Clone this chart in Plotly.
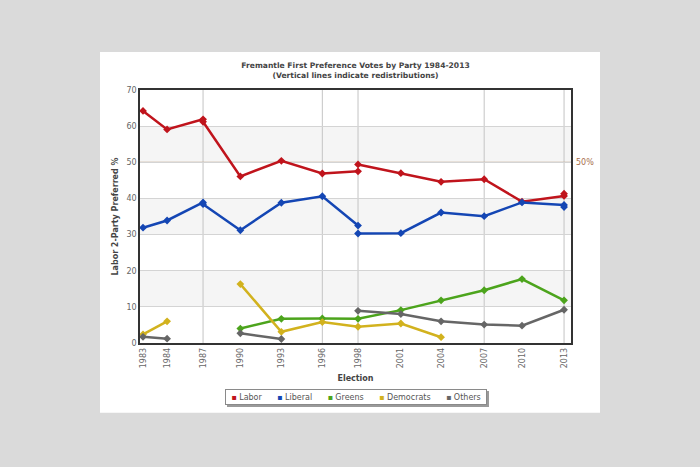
import plotly.graph_objects as go

# ---- data ----
elections = ["1983-03-05", "1984-12-01", "1987-07-11", "1990-03-24", "1993-03-13",
             "1996-03-02", "1998-10-03", "2001-11-10", "2004-10-09", "2007-11-24",
             "2010-08-21", "2013-09-07"]
years = ["1983", "1984", "1987", "1990", "1993", "1996", "1998", "2001", "2004",
         "2007", "2010", "2013"]
redistributions = ["1987-07-11", "1996-03-02", "1998-10-03", "2007-11-24", "2013-09-07"]

# each segment: (index of first election, values)
labor = [(0, [64.2, 59.1, 61.9]), (2, [61.2, 46.1, 50.4, 46.9, 47.5]),
         (6, [49.4, 47.0, 44.6, 45.3, 39.1, 40.7]), (11, [41.3])]
liberal = [(0, [31.9, 33.9, 38.9]), (2, [38.4, 31.2, 38.8, 40.6, 32.5]),
           (6, [30.3, 30.4, 36.1, 35.1, 38.9, 38.2]), (11, [37.6])]
greens = [(3, [4.0, 6.7, 6.8, 6.7, 9.1, 11.8, 14.6, 17.7, 11.8])]
democrats = [(0, [2.4, 6.0]), (3, [16.3, 3.1, 5.8, 4.5, 5.4, 1.6])]
others = [(0, [1.7, 1.2]), (3, [2.7, 1.1]), (6, [8.9, 8.0, 6.0, 5.1, 4.8, 9.2])]

parties = ["Labor", "Liberal", "Greens", "Democrats", "Others"]
series = [labor, liberal, greens, democrats, others]
colors = ["#c0141c", "#1446b4", "#4ca41c", "#d2b21e", "#666666"]

majority = 50

FONT = "DejaVu Sans"

fig = go.Figure()

for name, segs, col in zip(parties, series, colors):
    xs, ys = [], []
    for start, vals in segs:
        if xs:
            xs.append(None)
            ys.append(None)
        xs.extend(elections[start:start + len(vals)])
        ys.extend(vals)
    fig.add_trace(go.Scatter(
        x=xs, y=ys, mode="lines+markers", name=name, showlegend=False,
        connectgaps=False,
        line=dict(color=col, width=2.5),
        marker=dict(symbol="diamond", size=6, color=col),
    ))

shapes = []
# white panel behind the chart
shapes.append(dict(type="rect", xref="paper", yref="paper",
                   x0=-0.0928, x1=1.0673, y0=-0.276, y1=1.150,
                   fillcolor="white", line=dict(width=0), layer="below"))
# legend shadow
shapes.append(dict(type="rect", xref="paper", yref="paper",
                   x0=0.2019, x1=0.8097, y0=-0.253, y1=-0.1897,
                   fillcolor="#9a9a9a", line=dict(width=0), layer="below"))
# alternating bands
for lo in (10, 30, 50):
    shapes.append(dict(type="rect", xref="paper", yref="y", x0=0, x1=1,
                       y0=lo, y1=lo + 10, fillcolor="#f5f5f5",
                       line=dict(width=0), layer="below"))
# redistribution lines
for d in redistributions:
    shapes.append(dict(type="line", xref="x", yref="paper", x0=d, x1=d, y0=0, y1=1,
                       line=dict(color="#c4c4c4", width=1), layer="below"))
# 50% line
shapes.append(dict(type="line", xref="paper", yref="y", x0=0, x1=1,
                   y0=majority, y1=majority,
                   line=dict(color="#c0a488", width=1.2), layer="below"))

# legend (drawn as a boxed text row, like the original's compact legend)
gap = "&nbsp;" * 6
legend_text = gap.join(
    f'<span style="color:{c}">▪</span>&nbsp;{p}' for p, c in zip(parties, colors)
)

fig.update_layout(
    width=700, height=467,
    paper_bgcolor="#dadada",
    plot_bgcolor="rgba(0,0,0,0)",
    margin=dict(l=140, r=129, t=90, b=124),
    font=dict(family=FONT, size=8, color="#555555"),
    showlegend=False,
    title=dict(
        text="Fremantle First Preference Votes by Party 1984-2013<br>(Vertical lines indicate redistributions)",
        x=0.5, xref="paper", xanchor="center",
        y=1 - 68 / 467, yanchor="top",
        font=dict(family=FONT, size=7.6, color="#444444", weight="bold"),
    ),
    shapes=shapes,
    annotations=[
        dict(text="50%", xref="paper", yref="y", x=1.0, y=majority,
             xanchor="left", yanchor="middle", xshift=3, showarrow=False,
             font=dict(family=FONT, size=8, color="#a86e4c")),
        dict(text=legend_text, xref="paper", yref="paper", x=0.5012, y=-0.2134,
             xanchor="center", yanchor="middle", showarrow=False,
             width=256, height=10, align="center", valign="middle",
             bgcolor="white", bordercolor="#8a8a8a", borderwidth=1, borderpad=2,
             font=dict(family=FONT, size=8, color="#555555")),
    ],
)

fig.update_xaxes(
    type="date",
    range=["1982-12-15", "2014-03-10"],
    tickvals=elections, ticktext=years, tickangle=-90,
    showgrid=False, zeroline=False,
    showline=True, mirror=True, linecolor="#333333", linewidth=1.5,
    ticks="", tickfont=dict(family=FONT, size=8, color="#666666"),
    title=dict(text="Election", standoff=8,
               font=dict(family=FONT, size=8, color="#444444", weight="bold")),
)
fig.update_yaxes(
    range=[0, 70], dtick=10,
    showgrid=True, gridcolor="#d4d4d4", gridwidth=1, zeroline=False,
    showline=True, mirror=True, linecolor="#333333", linewidth=1.5,
    ticks="", tickfont=dict(family=FONT, size=8, color="#666666"),
    title=dict(text="Labor 2-Party Preferred %", standoff=7,
               font=dict(family=FONT, size=8, color="#444444", weight="bold")),
)

fig.write_html(
    "out.html",
    config={"displayModeBar": False},
    post_script="document.body.style.margin='0';document.body.style.background='#dadada';",
)
